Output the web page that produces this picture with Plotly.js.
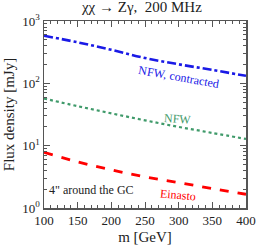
<!DOCTYPE html>
<html><head><meta charset="utf-8">
<script src="https://cdn.plot.ly/plotly-3.0.1.min.js"></script>
<style>html,body{margin:0;padding:0;background:#fff}#c{width:258px;height:248px}</style>
</head><body><div id="c"></div>
<script>
const mass = [100, 150, 200, 250, 300, 350, 400];
const nfwContracted = [580, 455, 345, 255, 202, 164, 132];
const nfw = [57, 43, 33, 25.5, 20, 16, 12.8];
const einasto = [7.8, 5.5, 4.1, 3.15, 2.55, 2.05, 1.66];
const xTicks = [100, 150, 200, 250, 300, 350, 400];
const yTicks = [1, 10, 100, 1000];
const yTickText = ['10<sup>0</sup>', '10<sup>1</sup>', '10<sup>2</sup>', '10<sup>3</sup>'];

const F = '"Liberation Serif", "Times New Roman", serif';
const minorY = [];
[1, 10, 100].forEach(d => { for (let k = 2; k <= 9; k++) minorY.push(d * k); });
const minorX = [];
for (let v = 100; v <= 400; v += 10) if (v % 50) minorX.push(v);

const traces = [
  {x: mass, y: nfwContracted, mode: 'lines', line: {color: '#1a1ae6', width: 2.6, dash: 'dashdot', shape: 'spline'}},
  {x: mass, y: nfw, mode: 'lines', line: {color: '#3f9a6a', width: 2.2, dash: 'dot', shape: 'spline'}},
  {x: mass, y: einasto, mode: 'lines', line: {color: '#ff0000', width: 2.8, dash: 'dash', shape: 'spline'}}
];
const axCommon = {
  showgrid: false, zeroline: false, showline: true, linecolor: '#555', linewidth: 1.5,
  mirror: 'ticks', ticks: 'inside', ticklen: 6, tickcolor: '#555', tickwidth: 1,
  tickfont: {family: F, size: 13, color: '#222'}
};
const layout = {
  width: 258, height: 248,
  margin: {l: 44, r: 12, t: 21, b: 40},
  paper_bgcolor: '#fff', plot_bgcolor: '#fff',
  showlegend: false,
  font: {family: F, color: '#222'},
  title: {text: 'χχ → Zγ,  200 MHz', font: {family: F, size: 15, color: '#222'}, x: 0.55, xanchor: 'center', y: 0.995, yanchor: 'top'},
  xaxis: Object.assign({}, axCommon, {
    range: [100, 400], tickmode: 'array', tickvals: xTicks,
    minor: {tickmode: 'array', tickvals: minorX, ticklen: 3, ticks: 'inside', tickcolor: '#555'},
    title: {text: 'm [GeV]', font: {family: F, size: 15, color: '#222'}, standoff: 4}
  }),
  yaxis: Object.assign({}, axCommon, {
    type: 'log', range: [0, 3], tickmode: 'array', tickvals: yTicks, ticktext: yTickText,
    minor: {tickmode: 'array', tickvals: minorY, ticklen: 3, ticks: 'inside', tickcolor: '#555'},
    title: {text: 'Flux density [mJy]', font: {family: F, size: 15, color: '#222'}, standoff: 4}
  }),
  annotations: [
    {x: 300, y: Math.log10(128), xref: 'x', yref: 'y', text: 'NFW, contracted', showarrow: false, textangle: 10, font: {family: F, size: 12, color: '#1a1ae6'}},
    {x: 299, y: Math.log10(26.5), xref: 'x', yref: 'y', text: 'NFW', showarrow: false, textangle: 4, font: {family: F, size: 12, color: '#3f9a6a'}},
    {x: 299, y: Math.log10(1.62), xref: 'x', yref: 'y', text: 'Einasto', showarrow: false, textangle: 5, font: {family: F, size: 12, color: '#ff0000'}},
    {x: 170, y: Math.log10(1.95), xref: 'x', yref: 'y', text: '4" around the GC', showarrow: false, font: {family: F, size: 12, color: '#222'}}
  ]
};
Plotly.newPlot('c', traces, layout, {displayModeBar: false, staticPlot: true});
</script></body></html>
